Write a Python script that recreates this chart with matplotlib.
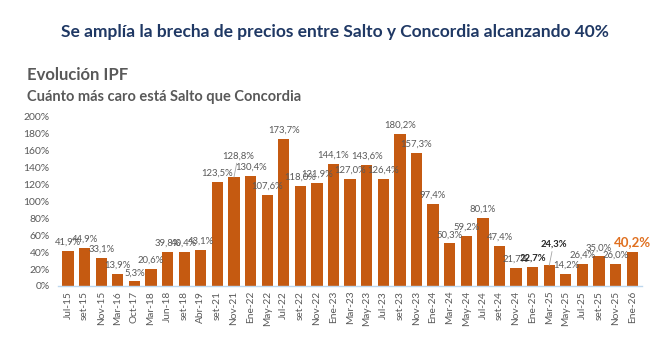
import matplotlib.pyplot as plt

plt.rcParams['font.family'] = ['Lato', 'DejaVu Sans']

periods = ["Jul-15", "set-15", "Nov-15", "Mar-16", "Oct-17", "Mar-18", "Jun-18", "set-18",
           "Abr-19", "set-21", "Nov-21", "Ene-22", "May-22", "Jul-22", "set-22", "Nov-22",
           "Ene-23", "Mar-23", "May-23", "Jul-23", "set-23", "Nov-23", "Ene-24", "Mar-24",
           "May-24", "Jul-24", "set-24", "Nov-24", "Ene-25", "Mar-25", "May-25", "Jul-25",
           "set-25", "Nov-25", "Ene-26"]
brecha = [41.9, 44.9, 33.1, 13.9, 5.3, 20.6, 39.8, 40.4, 43.1, 123.5, 128.8, 130.4,
          107.6, 173.7, 118.0, 121.9, 144.1, 127.0, 143.6, 126.4, 180.2, 157.3, 97.4, 50.3,
          59.2, 80.1, 47.4, 21.7, 22.7, 24.3, 14.2, 26.4, 35.0, 26.0, 40.2]

orange = "#C55A11"
gray = "#595959"

fig = plt.figure(figsize=(6.6, 3.4), dpi=100)
ax = fig.add_axes([0.088, 0.159, 0.885, 0.497])

x = list(range(len(brecha)))
ax.bar(x, brecha, width=0.68, color=orange, zorder=2)

for i, v in enumerate(brecha):
    txt = f"{v:.1f}%".replace(".", ",")
    if i == len(brecha) - 1:
        ax.annotate(txt, (i, v), xytext=(0, 3), textcoords="offset points",
                    ha="center", va="bottom", fontsize=9.5, fontweight="bold",
                    color="#E07020", annotation_clip=False)
    elif periods[i] in ("Nov-21", "Mar-25"):
        ax.annotate(txt, (i, v), xytext=(3, 12), textcoords="offset points",
                    ha="center", va="bottom", fontsize=6.8,
                    color="#262626" if periods[i] == "Mar-25" else gray,
                    fontweight="bold" if periods[i] == "Mar-25" else "normal",
                    arrowprops=dict(arrowstyle="-", color="#A6A6A6", lw=0.6,
                                    shrinkA=0, shrinkB=0),
                    annotation_clip=False)
    else:
        bold = periods[i] == "Ene-25"
        ax.annotate(txt, (i, v), xytext=(0, 3), textcoords="offset points",
                    ha="center", va="bottom", fontsize=6.8,
                    color="#262626" if bold else gray,
                    fontweight="bold" if bold else "normal",
                    annotation_clip=False)

ax.set_xlim(-0.6, len(brecha) - 0.4)
ax.set_ylim(0, 200)
ax.set_yticks(range(0, 201, 20))
ax.set_yticklabels([f"{t}%" for t in range(0, 201, 20)])
ax.set_xticks(x)
ax.set_xticklabels(periods, rotation=90)
ax.tick_params(axis="both", length=0, colors=gray, labelsize=7.3)
ax.tick_params(axis="y", pad=6, labelsize=7.5)
for s in ["top", "right", "left"]:
    ax.spines[s].set_visible(False)
ax.spines["bottom"].set_color("#BDD7EE")
ax.spines["bottom"].set_linewidth(1.0)

fig.text(0.507, 0.906, "Se amplía la brecha de precios entre Salto y Concordia alcanzando 40%",
         ha="center", va="center", fontsize=12.5, fontweight="bold", color="#1F3864")
fig.text(0.041, 0.779, "Evolución IPF", ha="left", va="center", fontsize=12,
         fontweight="bold", color=gray)
fig.text(0.041, 0.715, "Cuánto más caro está Salto que Concordia", ha="left", va="center",
         fontsize=10.5, fontweight="bold", color=gray)

fig.savefig("out.png", dpi=100)
